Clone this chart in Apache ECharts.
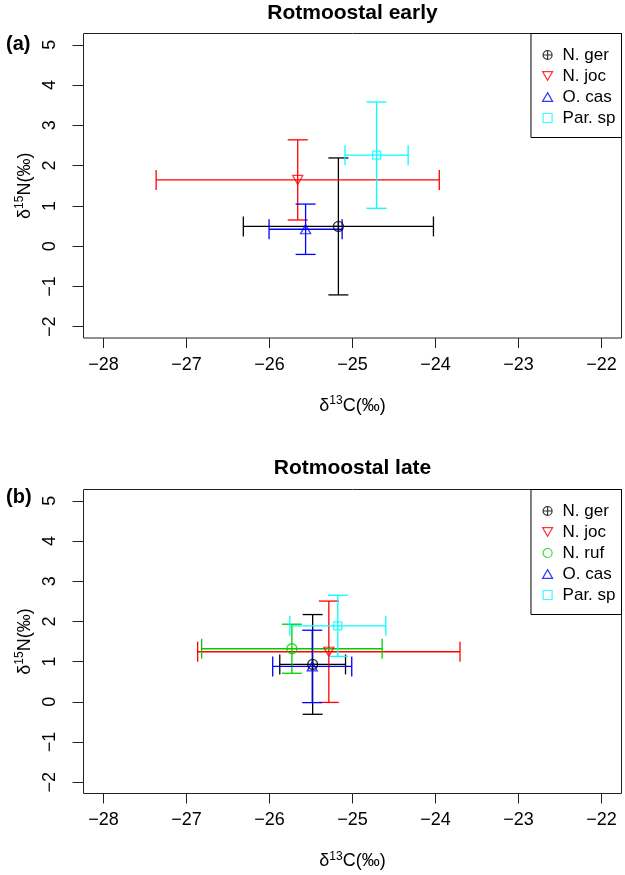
<!DOCTYPE html>
<html><head><meta charset="utf-8">
<script src="https://cdn.jsdelivr.net/npm/echarts@6/dist/echarts.min.js"></script>
<style>html,body{margin:0;padding:0;background:#fff}#c{width:625px;height:875px}</style>
</head><body><div id="c"></div>
<script>
// ---- data ----
const speciesA = ['N. ger', 'N. joc', 'O. cas', 'Par. sp'];
const xMeanA = [-25.17, -25.66, -25.565, -24.71];
const xErrA  = [1.145, 1.705, 0.44, 0.38];
const yMeanA = [0.49, 1.645, 0.42, 2.26];
const yErrA  = [1.70, 0.995, 0.625, 1.32];

const speciesB = ['N. ger', 'N. joc', 'N. ruf', 'O. cas', 'Par. sp'];
const xMeanB = [-25.48, -25.285, -25.73, -25.485, -25.177];
const xErrB  = [0.396, 1.58, 1.087, 0.476, 0.578];
const yMeanB = [0.93, 1.245, 1.32, 0.88, 1.89];
const yErrB  = [1.24, 1.26, 0.61, 0.90, 0.76];

const xTicks = [-28, -27, -26, -25, -24, -23, -22];
const yTicks = [-2, -1, 0, 1, 2, 3, 4, 5];
const panelTitles = ['Rotmoostal early', 'Rotmoostal late'];
const panelTags = ['(a)', '(b)'];

// ---- styles ----
const FONT = '"Liberation Sans", Arial, Helvetica, sans-serif';
const circlePlus = 'path://M10,0 A10,10 0 1 1 -10,0 A10,10 0 1 1 10,0 Z M-10,0 L10,0 M0,-10 L0,10';
const downTri = 'path://M-10,-8.66 L10,-8.66 L0,8.66 Z';
const upTri = 'path://M0,-8.66 L10,8.66 L-10,8.66 Z';
const square = 'path://M-5,-5 L5,-5 L5,5 L-5,5 Z';
const STY = {
  'N. ger':  {color: '#000000', symbol: circlePlus, size: 10, leg: 9},
  'N. joc':  {color: '#FF0000', symbol: downTri, size: [10, 9], leg: 9},
  'N. ruf':  {color: '#00CD00', symbol: 'circle', size: 10, leg: 9},
  'O. cas':  {color: '#0000FF', symbol: upTri, size: [10, 9], leg: 9},
  'Par. sp': {color: '#00FFFF', symbol: square, size: 8, leg: 7}
};
const LW = 1.3;

const grids = [
  {left: 83.5, top: 33.5, width: 538, height: 304.5},
  {left: 83.5, top: 489.5, width: 538, height: 304}
];

const minus = v => String(v).replace('-', '\u2212');
const richName = {
  d: {fontSize: 18, lineHeight: 22, fontFamily: FONT, color: '#000'},
  s: {fontSize: 12, lineHeight: 12, fontFamily: FONT, color: '#000', verticalAlign: 'top'}
};

function xAxisOpt(gi) {
  return {
    type: 'value', gridIndex: gi, min: -28.24, max: -21.76, position: 'bottom',
    axisLine: {show: false, onZero: false}, splitLine: {show: false},
    axisTick: {show: true, inside: false, length: 10, customValues: xTicks, lineStyle: {color: '#222', width: 1}},
    axisLabel: {customValues: xTicks, margin: 18, fontSize: 18, color: '#000', fontFamily: FONT, formatter: minus},
    name: '{d|δ}{s|13}{d|C(‰)}', nameLocation: 'middle', nameGap: 57,
    nameTextStyle: {rich: richName}
  };
}
function yAxisOpt(gi) {
  return {
    type: 'value', gridIndex: gi, min: -2.28, max: 5.28, position: 'left',
    axisLine: {show: false, onZero: false}, splitLine: {show: false},
    axisTick: {show: true, inside: false, length: 11, customValues: yTicks, lineStyle: {color: '#222', width: 1}},
    axisLabel: {customValues: yTicks, margin: 24, rotate: 90, fontSize: 18, color: '#000', fontFamily: FONT, formatter: minus},
    name: '{d|δ}{s|15}{d|N(‰)}', nameLocation: 'middle', nameGap: 46, nameRotate: 90,
    nameTextStyle: {rich: richName}
  };
}

function errSeries(gi, sp, xm, xe, ym, ye) {
  const data = sp.map((s, i) => [xm[i], ym[i], xe[i], ye[i], i]);
  return {
    type: 'custom', name: 'err' + gi, xAxisIndex: gi, yAxisIndex: gi, silent: true, z: 2,
    data: data, encode: {x: 0, y: 1},
    renderItem: function (params, api) {
      const i = api.value(4);
      const col = STY[sp[i]].color;
      const x = api.value(0), y = api.value(1), dx = api.value(2), dy = api.value(3);
      const L = api.coord([x - dx, y]), R = api.coord([x + dx, y]);
      const T = api.coord([x, y + dy]), B = api.coord([x, y - dy]);
      const c = 10;
      const ls = {stroke: col, lineWidth: LW};
      const ln = (x1, y1, x2, y2) => ({type: 'line', shape: {x1, y1, x2, y2}, style: ls});
      return {type: 'group', children: [
        ln(L[0], L[1], R[0], R[1]),
        ln(L[0], L[1] - c, L[0], L[1] + c),
        ln(R[0], R[1] - c, R[0], R[1] + c),
        ln(T[0], T[1], B[0], B[1]),
        ln(T[0] - c, T[1], T[0] + c, T[1]),
        ln(B[0] - c, B[1], B[0] + c, B[1])
      ]};
    }
  };
}

function pointSeries(gi, sp, xm, ym) {
  return sp.map((s, i) => ({
    type: 'scatter', name: s, xAxisIndex: gi, yAxisIndex: gi, z: 3,
    data: [[xm[i], ym[i]]],
    symbol: STY[s].symbol, symbolSize: STY[s].size, color: STY[s].color,
    itemStyle: {color: 'rgba(0,0,0,0)', borderColor: STY[s].color, borderWidth: LW},
    emphasis: {disabled: true}
  }));
}

function legendOpt(gi, sp) {
  return {
    orient: 'vertical', right: 3.5, top: grids[gi].top,
    padding: [13, 6, 11, 11], itemGap: 4, itemWidth: 10, itemHeight: 9,
    borderColor: '#000', borderWidth: 1, borderRadius: 0, backgroundColor: '#fff',
    selectedMode: false,
    textStyle: {fontSize: 17, color: '#000', fontFamily: FONT, padding: [0, 0, 0, 5]},
    data: sp.map(s => ({
      name: s, icon: STY[s].symbol,
      itemStyle: {color: 'rgba(0,0,0,0)', borderColor: STY[s].color, borderWidth: 1.2}
    }))
  };
}

const graphics = [];
[13, 468].forEach((ty, gi) => {
  graphics.push({type: 'text', x: grids[gi].left + grids[gi].width / 2, y: ty,
    style: {text: panelTitles[gi], align: 'center', verticalAlign: 'middle', textAlign: 'center', textVerticalAlign: 'middle',
      font: 'bold 21px ' + FONT, fill: '#000'}});
});
[44, 497].forEach((ty, gi) => {
  graphics.push({type: 'text', x: 6, y: ty,
    style: {text: panelTags[gi], align: 'left', verticalAlign: 'middle', textAlign: 'left', textVerticalAlign: 'middle',
      font: 'bold 20px ' + FONT, fill: '#000'}});
});

const chart = echarts.init(document.getElementById('c'), null, {renderer: 'canvas'});
chart.setOption({
  animation: false,
  backgroundColor: '#fff',
  textStyle: {fontFamily: FONT},
  grid: grids.map(g => Object.assign({show: true, borderColor: '#222', borderWidth: 1, backgroundColor: 'transparent', containLabel: false}, g)),
  xAxis: [xAxisOpt(0), xAxisOpt(1)],
  yAxis: [yAxisOpt(0), yAxisOpt(1)],
  legend: [legendOpt(0, speciesA), legendOpt(1, speciesB)],
  graphic: graphics,
  series: [
    errSeries(0, speciesA, xMeanA, xErrA, yMeanA, yErrA),
    ...pointSeries(0, speciesA, xMeanA, yMeanA),
    errSeries(1, speciesB, xMeanB, xErrB, yMeanB, yErrB),
    ...pointSeries(1, speciesB, xMeanB, yMeanB)
  ]
});
</script></body></html>
